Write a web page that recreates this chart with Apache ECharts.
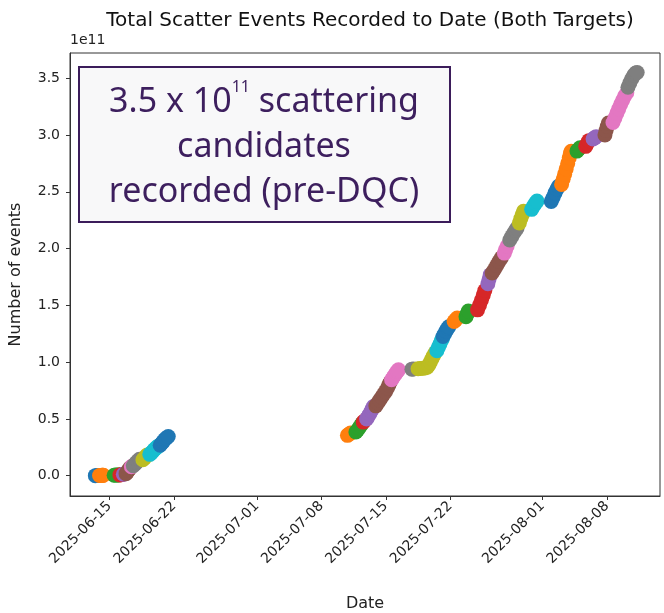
<!DOCTYPE html>
<html>
<head>
<meta charset="utf-8">
<script src="https://cdn.jsdelivr.net/npm/echarts@6/dist/echarts.min.js"></script>
<style>
html,body{margin:0;padding:0;background:#fff;}
#chart{width:664px;height:613px;}
</style>
</head>
<body>
<div id="chart"></div>
<script>
// ---- Data (values in units of 1e11 events) ----
const xTickDates = ['2025-06-15','2025-06-22','2025-07-01','2025-07-08','2025-07-15','2025-07-22','2025-08-01','2025-08-08'];
const yTicks = [0.0, 0.5, 1.0, 1.5, 2.0, 2.5, 3.0, 3.5];
const xRange = ['2025-06-10 17:00', '2025-08-13 18:30'];
const yRange = [-0.179, 3.722];

const run01 = [['2025-06-13 11:00',0.000],['2025-06-13 15:00',0.001],['2025-06-13 19:00',0.001],['2025-06-13 21:00',0.002]];
const run02 = [['2025-06-13 22:00',0.002],['2025-06-14 01:00',0.002],['2025-06-14 04:00',0.003],['2025-06-14 06:00',0.003],['2025-06-14 08:00',0.004]];
const run03 = [['2025-06-15 12:00',0.004],['2025-06-15 16:00',0.005],['2025-06-15 20:00',0.006],['2025-06-16 00:00',0.006]];
const run04 = [['2025-06-16 03:00',0.007],['2025-06-16 06:00',0.009],['2025-06-16 09:00',0.011]];
const run05 = [['2025-06-16 12:00',0.013],['2025-06-16 15:00',0.016]];
const run06 = [['2025-06-16 19:00',0.018],['2025-06-16 22:00',0.030],['2025-06-17 01:00',0.045],['2025-06-17 04:00',0.060],['2025-06-17 06:00',0.070]];
const run07 = [['2025-06-17 09:00',0.078],['2025-06-17 11:00',0.085]];
const run08 = [['2025-06-17 14:00',0.088],['2025-06-17 18:00',0.100],['2025-06-17 22:00',0.115],['2025-06-18 02:00',0.130],['2025-06-18 06:00',0.145]];
const run09 = [['2025-06-18 15:00',0.140],['2025-06-18 19:00',0.155],['2025-06-18 23:00',0.170],['2025-06-19 02:00',0.182]];
const run10 = [['2025-06-19 09:00',0.188],['2025-06-19 13:00',0.200],['2025-06-19 17:00',0.215],['2025-06-19 21:00',0.230],['2025-06-20 01:00',0.243],['2025-06-20 05:00',0.255],['2025-06-20 08:00',0.262]];
const run11 = [['2025-06-20 12:00',0.268],['2025-06-20 16:00',0.285],['2025-06-20 20:00',0.300],['2025-06-21 00:00',0.318],['2025-06-21 04:00',0.332],['2025-06-21 09:00',0.345]];
const run12 = [['2025-07-10 20:00',0.355],['2025-07-11 00:00',0.365],['2025-07-11 04:00',0.375]];
const run13 = [['2025-07-11 18:00',0.385],['2025-07-11 22:00',0.400],['2025-07-12 02:00',0.420],['2025-07-12 06:00',0.440],['2025-07-12 10:00',0.460]];
const run14 = [['2025-07-12 13:00',0.472],['2025-07-12 16:00',0.482]];
const run15 = [['2025-07-12 22:00',0.500],['2025-07-13 02:00',0.520],['2025-07-13 06:00',0.545],['2025-07-13 10:00',0.570],['2025-07-13 13:00',0.590],['2025-07-13 16:00',0.610]];
const run16 = [['2025-07-13 22:00',0.615],['2025-07-14 03:00',0.640],['2025-07-14 08:00',0.665],['2025-07-14 13:00',0.690],['2025-07-14 18:00',0.715],['2025-07-14 23:00',0.740],['2025-07-15 04:00',0.770],['2025-07-15 08:00',0.800],['2025-07-15 11:00',0.820]];
const run17 = [['2025-07-15 15:00',0.845],['2025-07-15 19:00',0.865],['2025-07-15 23:00',0.885],['2025-07-16 03:00',0.905],['2025-07-16 06:00',0.920],['2025-07-16 09:00',0.932]];
const run18 = [['2025-07-17 20:00',0.938],['2025-07-18 00:00',0.940]];
const run19 = [['2025-07-18 12:00',0.942],['2025-07-18 18:00',0.944],['2025-07-19 00:00',0.946],['2025-07-19 06:00',0.948],['2025-07-19 12:00',0.955],['2025-07-19 16:00',0.975],['2025-07-19 20:00',1.000],['2025-07-20 00:00',1.030],['2025-07-20 04:00',1.055],['2025-07-20 09:00',1.085]];
const run20 = [['2025-07-20 13:00',1.100],['2025-07-20 17:00',1.130],['2025-07-20 21:00',1.160],['2025-07-21 01:00',1.190],['2025-07-21 04:00',1.210]];
const run21 = [['2025-07-21 05:00',1.225],['2025-07-21 09:00',1.250],['2025-07-21 13:00',1.275],['2025-07-21 17:00',1.295],['2025-07-21 20:00',1.312]];
const run22 = [['2025-07-22 10:00',1.358],['2025-07-22 14:00',1.372],['2025-07-22 18:00',1.388]];
const run23 = [['2025-07-23 17:00',1.400],['2025-07-23 20:00',1.425],['2025-07-23 23:00',1.450]];
const run24 = [['2025-07-24 23:00',1.460],['2025-07-25 04:00',1.500],['2025-07-25 09:00',1.545],['2025-07-25 14:00',1.590],['2025-07-25 18:00',1.630]];
const run25 = [['2025-07-26 02:00',1.690],['2025-07-26 05:00',1.730],['2025-07-26 08:00',1.768]];
const run26 = [['2025-07-26 13:00',1.785],['2025-07-26 19:00',1.815],['2025-07-27 01:00',1.850],['2025-07-27 07:00',1.885],['2025-07-27 13:00',1.918]];
const run27 = [['2025-07-27 21:00',1.960],['2025-07-28 00:00',1.990],['2025-07-28 04:00',2.020]];
const run28 = [['2025-07-28 11:00',2.075],['2025-07-28 16:00',2.105],['2025-07-28 21:00',2.135],['2025-07-29 02:00',2.160],['2025-07-29 06:00',2.180]];
const run29 = [['2025-07-29 12:00',2.225],['2025-07-29 16:00',2.265],['2025-07-29 20:00',2.300],['2025-07-29 23:00',2.328]];
const run30 = [['2025-07-30 20:00',2.345],['2025-07-31 01:00',2.375],['2025-07-31 06:00',2.400],['2025-07-31 10:00',2.418]];
const run31 = [['2025-08-01 23:00',2.415],['2025-08-02 04:00',2.450],['2025-08-02 09:00',2.490],['2025-08-02 14:00',2.525],['2025-08-02 18:00',2.548]];
const run32 = [['2025-08-03 02:00',2.565],['2025-08-03 06:00',2.610],['2025-08-03 10:00',2.655],['2025-08-03 14:00',2.700],['2025-08-03 18:00',2.750],['2025-08-03 22:00',2.800],['2025-08-04 01:00',2.840],['2025-08-04 03:00',2.856]];
const run33 = [['2025-08-04 18:00',2.858],['2025-08-04 22:00',2.872],['2025-08-05 02:00',2.888]];
const run34 = [['2025-08-05 17:00',2.900],['2025-08-05 21:00',2.925],['2025-08-06 01:00',2.950]];
const run35 = [['2025-08-06 12:00',2.965],['2025-08-06 16:00',2.975],['2025-08-06 20:00',2.985]];
const run36 = [['2025-08-07 19:00',3.000],['2025-08-07 22:00',3.040],['2025-08-08 01:00',3.075],['2025-08-08 04:00',3.105]];
const run37 = [['2025-08-08 16:00',3.110],['2025-08-08 21:00',3.150],['2025-08-09 02:00',3.190],['2025-08-09 07:00',3.230],['2025-08-09 12:00',3.270],['2025-08-09 17:00',3.305],['2025-08-09 22:00',3.340],['2025-08-10 04:00',3.372]];
const run38 = [['2025-08-10 07:00',3.420],['2025-08-10 12:00',3.460],['2025-08-10 17:00',3.495],['2025-08-10 22:00',3.525],['2025-08-11 03:00',3.545],['2025-08-11 07:00',3.550]];

const runs = [run01,run02,run03,run04,run05,run06,run07,run08,run09,run10,
              run11,run12,run13,run14,run15,run16,run17,run18,run19,run20,
              run21,run22,run23,run24,run25,run26,run27,run28,run29,run30,
              run31,run32,run33,run34,run35,run36,run37,run38];

const palette = ['#1f77b4','#ff7f0e','#2ca02c','#d62728','#9467bd','#8c564b','#e377c2','#7f7f7f','#bcbd22','#17becf'];

// ---- helpers ----
function ts(s){
  const parts = s.split(' ');
  const d = parts[0].split('-').map(Number);
  const t = (parts[1] || '00:00').split(':').map(Number);
  return Date.UTC(d[0], d[1]-1, d[2], t[0], t[1]);
}
function pad(n){ return (n < 10 ? '0' : '') + n; }
function fmtDate(v){
  const d = new Date(v);
  return d.getUTCFullYear() + '-' + pad(d.getUTCMonth()+1) + '-' + pad(d.getUTCDate());
}

const FONT = 'DejaVu Sans';
const TXT = '#3d1f5e';
const chart = echarts.init(document.getElementById('chart'), null, {renderer: 'canvas'});

const series = runs.map(function(r){
  return {
    type: 'scatter',
    symbol: 'circle',
    symbolSize: 15,
    itemStyle: {opacity: 1},
    emphasis: {disabled: true},
    data: r.map(function(p){ return [ts(p[0]), p[1]]; })
  };
});

const option = {
  animation: false,
  color: palette,
  backgroundColor: '#ffffff',
  title: {
    text: 'Total Scatter Events Recorded to Date (Both Targets)',
    left: 365, top: 6, textAlign: 'center',
    textStyle: {fontFamily: FONT, fontSize: 20, fontWeight: 'normal', color: '#111'}
  },
  grid: {
    left: 70, right: 4, top: 53, bottom: 117,
    show: true, borderColor: '#333', borderWidth: 1, backgroundColor: 'transparent',
    containLabel: false, outerBoundsMode: 'none'
  },
  xAxis: {
    type: 'value',
    min: ts(xRange[0]), max: ts(xRange[1]),
    name: 'Date', nameLocation: 'middle', nameGap: 100,
    nameTextStyle: {fontFamily: FONT, fontSize: 16, color: '#222'},
    axisLine: {show: true, onZero: false, lineStyle: {color: '#333', width: 1}},
    axisTick: {show: true, length: 4, lineStyle: {color: '#333'}, customValues: xTickDates.map(ts)},
    axisLabel: {
      show: true, rotate: 45, margin: 8,
      fontFamily: FONT, fontSize: 14, color: '#222',
      customValues: xTickDates.map(ts),
      formatter: function(v){ return fmtDate(v); }
    },
    splitLine: {show: false}
  },
  yAxis: {
    type: 'value',
    min: yRange[0], max: yRange[1],
    name: 'Number of events', nameLocation: 'middle', nameGap: 46, nameRotate: 90,
    nameTextStyle: {fontFamily: FONT, fontSize: 16, color: '#222'},
    axisLine: {show: true, onZero: false, lineStyle: {color: '#333', width: 1}},
    axisTick: {show: true, length: 4, lineStyle: {color: '#333'}, customValues: yTicks},
    axisLabel: {
      show: true, margin: 10, fontFamily: FONT, fontSize: 14, color: '#222',
      customValues: yTicks,
      formatter: function(v){ return v.toFixed(1); }
    },
    splitLine: {show: false}
  },
  graphic: [
    {
      type: 'text', left: 70, top: 33, z: 10,
      style: {text: '1e11', fontFamily: FONT, fontSize: 14, fill: '#222'}
    },
    {
      type: 'rect', z: 50,
      shape: {x: 79, y: 67, width: 371, height: 155},
      style: {fill: '#f8f8f9', stroke: '#3b1c5a', lineWidth: 2}
    },
    {
      type: 'text', z: 51,
      x: 264, y: 147,
      style: {
        text: '{a|3.5 x 10}{s|11}{a| scattering}\n{a|candidates}\n{a|recorded (pre-DQC)}',
        align: 'center', verticalAlign: 'middle',
        textAlign: 'center', textVerticalAlign: 'middle',
        fill: TXT,
        rich: {
          a: {fontFamily: 'Noto Sans', fontSize: 34, lineHeight: 45, fill: TXT, color: TXT},
          s: {fontFamily: 'Noto Sans', fontSize: 16, lineHeight: 30, verticalAlign: 'top', fill: TXT, color: TXT}
        }
      }
    }
  ],
  series: series
};
chart.setOption(option);
</script>
</body>
</html>
